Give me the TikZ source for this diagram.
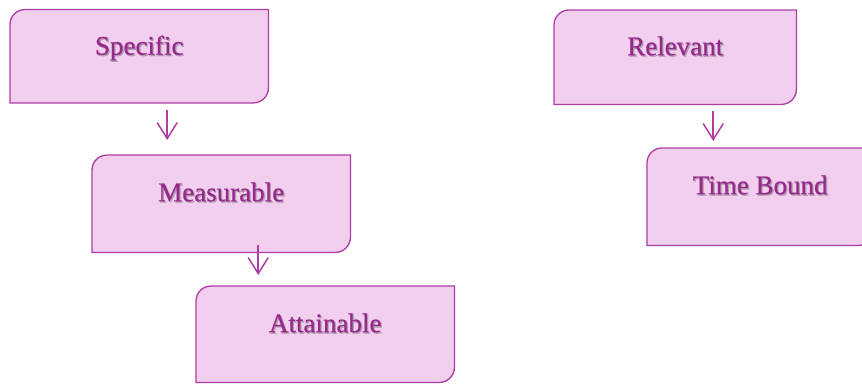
\documentclass[tikz,border=0pt]{standalone}
\usepackage{fontspec}
\setmainfont{Liberation Serif}[FakeBold=0.5]
\usetikzlibrary{arrows.meta,backgrounds}

\definecolor{goalfill}{RGB}{242,206,239}
\definecolor{goalline}{RGB}{172,62,164}
\definecolor{goaltext}{RGB}{150,42,140}
\definecolor{txtshadow}{RGB}{175,155,172}

% label with a soft drop shadow
\newcommand{\shadowtxt}[1]{\rlap{\kern1.3pt\raisebox{-1.3pt}{\textcolor{txtshadow}{#1}}}#1}
% box with rounded top-left and bottom-right corners
\newcommand{\goalshape}[1]{%
  \filldraw[goalshp] (#1.south west) -- ([yshift=-15pt]#1.north west)
    arc[start angle=180,end angle=90,radius=15pt] -- (#1.north east)
    -- ([yshift=15pt]#1.south east) arc[start angle=0,end angle=-90,radius=15pt] -- cycle;}

\tikzset{
  goal/.style={anchor=north west, inner sep=0pt, minimum width=258pt,
    text height=46pt, text depth=50pt, text=goaltext,
    font=\fontsize{27}{30}\selectfont},
  goalshp/.style={fill=goalfill, draw=goalline, line width=1.3pt},
  flow/.style={draw=goalline, line width=1.5pt,
    -{Straight Barb[length=16pt,width=20pt]}}
}

\begin{document}
\begin{tikzpicture}[x=1pt,y=1pt]
\useasboundingbox (0,0) rectangle (862,-383);
\clip (0,0) rectangle (862,-383);

\node[goal, text height=45pt, text depth=48pt] at (10,-9.5)  (spec) {\shadowtxt{Specific}};
\node[goal, text depth=51pt] at (92,-155)  (meas) {\shadowtxt{Measurable}};
\node[goal] at (196,-286) (att)  {\shadowtxt{Attainable}};

\node[goal, minimum width=242pt, text height=45pt, text depth=49pt] at (554,-10)  (rel) {\shadowtxt{Relevant}};
\node[goal, minimum width=226pt, text depth=51pt] at (647,-148) (tb)  {\shadowtxt{Time Bound}};

\begin{pgfonlayer}{background}
\goalshape{spec}
\goalshape{meas}
\goalshape{att}
\goalshape{rel}
\goalshape{tb}
\end{pgfonlayer}

\draw[flow, shorten <=7pt, shorten >=15pt] ([xshift=28pt]spec.south) -- ([xshift=28pt]spec.south |- meas.north);
\draw[flow, shorten <=-7pt, shorten >=11pt] ([xshift=37pt]meas.south) -- ([xshift=37pt]meas.south |- att.north);
\draw[flow, shorten <=7pt, shorten >=7pt] ([xshift=38pt]rel.south) -- ([xshift=38pt]rel.south |- tb.north);

\end{tikzpicture}
\end{document}
